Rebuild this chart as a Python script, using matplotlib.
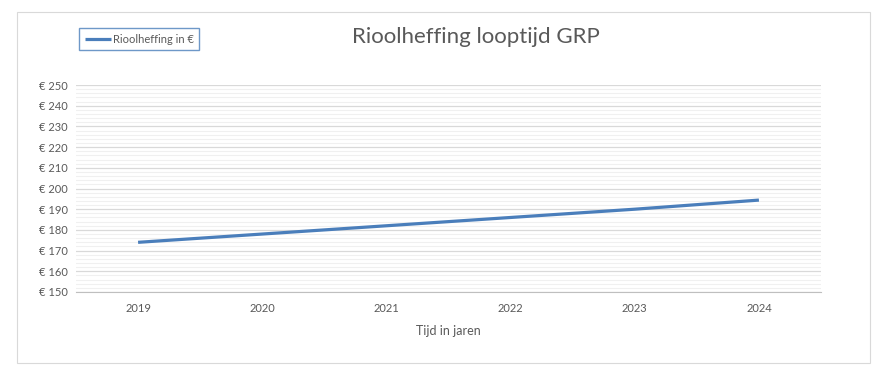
import matplotlib.pyplot as plt
from matplotlib.patches import Rectangle
from matplotlib.ticker import MultipleLocator

years = ['2019', '2020', '2021', '2022', '2023', '2024']
heffing = [174, 178, 182, 186, 190, 194.4]

plt.rcParams['font.family'] = ['Lato', 'DejaVu Sans']

fig = plt.figure(figsize=(8.77, 3.66), dpi=100)
fig.patches.append(Rectangle((17 / 877, 1 - 363 / 366), 853 / 877, 351 / 366,
                             transform=fig.transFigure, fill=False,
                             edgecolor='#d9d9d9', linewidth=0.8))

ax = fig.add_axes([76 / 877, 1 - 292 / 366, 745 / 877, 207 / 366])
x = range(len(years))
line, = ax.plot(x, heffing, color='#4A7EBB', linewidth=2.3,
                solid_capstyle='butt', label='Rioolheffing in €')

ax.set_xlim(-0.5, len(years) - 0.5)
ax.set_ylim(150, 250)
ax.set_xticks(list(x))
ax.set_xticklabels(years)
ax.yaxis.set_major_locator(MultipleLocator(10))
ax.yaxis.set_minor_locator(MultipleLocator(2))
ax.set_yticklabels([f'€ {v:.0f}' for v in ax.get_yticks()])
ax.grid(axis='y', which='major', color='#d9d9d9', linewidth=0.9)
ax.grid(axis='y', which='minor', color='#f0f0f0', linewidth=0.8)
ax.set_axisbelow(True)
for s in ['top', 'right', 'left']:
    ax.spines[s].set_visible(False)
ax.spines['bottom'].set_color('#bfbfbf')
ax.tick_params(axis='both', which='both', length=0, labelsize=8, colors='#595959')
ax.tick_params(axis='x', pad=8)
ax.tick_params(axis='y', pad=6)

ax.set_xlabel('Tijd in jaren', fontsize=9, color='#595959', labelpad=8)
fig.text(476 / 877, 1 - 37 / 366, 'Rioolheffing looptijd GRP', ha='center',
         va='center', fontsize=16, color='#595959')

leg = fig.legend(handles=[line], loc='upper left',
                 bbox_to_anchor=(79 / 877, 1 - 28 / 366), fontsize=8,
                 frameon=True, fancybox=False, handlelength=2.4,
                 handletextpad=0.15, borderpad=0.5, borderaxespad=0,
                 labelcolor='#595959')
leg.get_frame().set_edgecolor('#4A7EBB')
leg.get_frame().set_linewidth(1.0)

fig.savefig('out.png', dpi=100)
